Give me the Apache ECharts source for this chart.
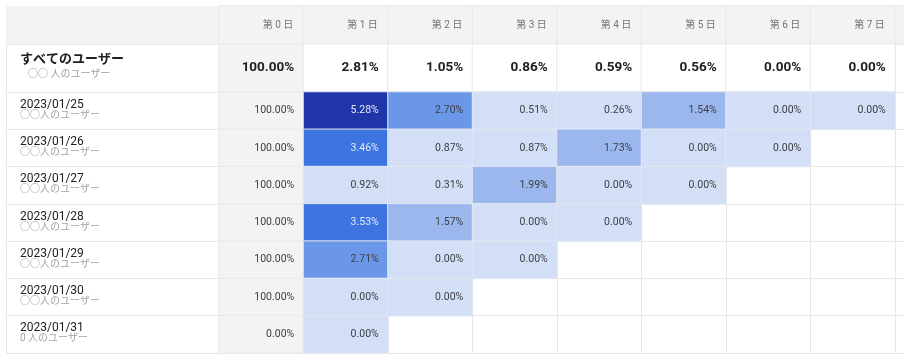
<!DOCTYPE html>
<html>
<head>
<meta charset="utf-8">
<script src="https://cdn.jsdelivr.net/npm/echarts@6/dist/echarts.min.js"></script>
<style>html,body{margin:0;padding:0;background:#fff}#c{width:904px;height:362px}</style>
</head>
<body>
<div id="c"></div>
<script>
// ---- data ----
const days = ['第 0 日', '第 1 日', '第 2 日', '第 3 日', '第 4 日', '第 5 日', '第 6 日', '第 7 日', '第 8 日'];
const summaryTitle = 'すべてのユーザー';
const summarySub = '○○ 人のユーザー';
const summaryValues = [100.00, 2.81, 1.05, 0.86, 0.59, 0.56, 0.00, 0.00];
const cohortDates = ['2023/01/25', '2023/01/26', '2023/01/27', '2023/01/28', '2023/01/29', '2023/01/30', '2023/01/31'];
const cohortUsers = ['○○人のユーザー', '○○人のユーザー', '○○人のユーザー', '○○人のユーザー', '○○人のユーザー', '○○人のユーザー', '0 人のユーザー'];
const retention = [
  [100.00, 5.28, 2.70, 0.51, 0.26, 1.54, 0.00, 0.00],
  [100.00, 3.46, 0.87, 0.87, 1.73, 0.00, 0.00],
  [100.00, 0.92, 0.31, 1.99, 0.00, 0.00],
  [100.00, 3.53, 1.57, 0.00, 0.00],
  [100.00, 2.71, 0.00, 0.00],
  [100.00, 0.00, 0.00],
  [0.00, 0.00]
];

// ---- layout / style ----
const FONT = 'Roboto, "Noto Sans CJK JP", sans-serif';
const LINE = '#ebe7e9';
const GRAY = '#f3f3f3';
const LEFT = 219, COLW = 84.5, LABEL_W = 213;
const pct = v => v.toFixed(2) + '%';

function xAxisFor(gi) {
  return {
    type: 'category', gridIndex: gi, data: days,
    axisLabel: { show: false }, axisTick: { show: false },
    axisLine: { show: false },
    splitLine: { show: true, interval: 0, lineStyle: { color: LINE, width: 1 } }
  };
}

const header0 = days.map((d, i) => [i, 0, i]);
const summaryData = summaryValues.map((v, i) => ({
  value: [i, 0, v],
  itemStyle: { color: i === 0 ? GRAY : '#ffffff' }
}));
const day0Data = retention.map((r, j) => [0, j, r[0]]);
const colored = [];
retention.forEach((r, j) => {
  r.forEach((v, i) => {
    if (i === 0) return;
    colored.push({ value: [i, j, v], label: { color: v >= 3 ? '#e4eafb' : '#3c4043' } });
  });
});

const gridBase = { left: LEFT, width: COLW * days.length, outerBoundsMode: 'none', containLabel: false };

const option = {
  backgroundColor: '#ffffff',
  animation: false,
  textStyle: { fontFamily: FONT },
  grid: [
    Object.assign({ top: 6, height: 38 }, gridBase),
    Object.assign({ top: 44, height: 48 }, gridBase),
    Object.assign({ top: 92, height: 261 }, gridBase)
  ],
  xAxis: [xAxisFor(0), xAxisFor(1), xAxisFor(2)],
  yAxis: [
    { type: 'category', gridIndex: 0, data: [''], axisLabel: { show: false },
      axisTick: { show: false }, axisLine: { show: false }, splitLine: { show: false } },
    { type: 'category', gridIndex: 1, data: [summaryTitle],
      axisLine: { show: true, lineStyle: { color: LINE } },
      axisTick: { show: true, length: LABEL_W, lineStyle: { color: LINE } },
      splitLine: { show: true, interval: 0, lineStyle: { color: LINE } },
      axisLabel: {
        align: 'left', margin: LEFT - 20, padding: [0, 0, 3, 0],
        formatter: v => '{t|' + v + '}\n{s|' + summarySub + '}',
        rich: {
          t: { fontFamily: FONT, fontSize: 13, fontWeight: 'bold', color: '#202124', lineHeight: 15 },
          s: { fontFamily: FONT, fontSize: 10, color: '#9aa0a6', lineHeight: 13, padding: [0, 0, 0, 8] }
        }
      } },
    { type: 'category', gridIndex: 2, data: cohortDates, inverse: true,
      axisLine: { show: true, lineStyle: { color: LINE } },
      axisTick: { show: true, length: LABEL_W, interval: 0, lineStyle: { color: LINE } },
      splitLine: { show: true, interval: 0, lineStyle: { color: LINE } },
      axisLabel: {
        align: 'left', margin: LEFT - 20, interval: 0, padding: [0, 0, 2, 0],
        formatter: (v, idx) => '{a|' + v + '}\n{b|' + cohortUsers[idx] + '}',
        rich: {
          a: { fontFamily: FONT, fontSize: 12, color: '#202124', lineHeight: 11 },
          b: { fontFamily: FONT, fontSize: 10, color: '#a0a4a8', lineHeight: 10 }
        }
      } }
  ],
  visualMap: {
    type: 'piecewise', show: false, seriesIndex: 3, dimension: 2,
    pieces: [
      { min: 0, max: 1, color: '#d2dff7' },
      { min: 1, max: 2.5, color: '#9bb7ee' },
      { min: 2.5, max: 3, color: '#6b97e8' },
      { min: 3, max: 5, color: '#3e74df' },
      { min: 5, color: '#2036a8' }
    ]
  },
  graphic: [
    { type: 'rect', shape: { x: 6, y: 6, width: LABEL_W, height: 38 }, style: { fill: GRAY }, z: -1 },
    { type: 'line', shape: { x1: 6.5, y1: 44, x2: 6.5, y2: 353 }, style: { stroke: LINE, lineWidth: 1 } }
  ],
  series: [
    { type: 'heatmap', xAxisIndex: 0, yAxisIndex: 0, data: header0,
      itemStyle: { color: GRAY, borderColor: LINE, borderWidth: 1 },
      label: { show: true, position: 'insideRight', distance: 11, fontFamily: FONT, fontSize: 10, color: '#70757a',
        formatter: p => days[p.value[0]] },
      emphasis: { disabled: true } },
    { type: 'heatmap', xAxisIndex: 1, yAxisIndex: 1, data: summaryData,
      itemStyle: { borderColor: LINE, borderWidth: 1 },
      label: { show: true, position: 'insideRight', distance: 10, fontFamily: FONT, fontSize: 13.5, fontWeight: 'bold', color: '#202124',
        formatter: p => pct(p.value[2]) },
      emphasis: { disabled: true } },
    { type: 'heatmap', xAxisIndex: 2, yAxisIndex: 2, data: day0Data,
      itemStyle: { color: GRAY, borderColor: LINE, borderWidth: 1 },
      label: { show: true, position: 'insideRight', distance: 10, fontFamily: FONT, fontSize: 10.5, color: '#3c4043',
        formatter: p => pct(p.value[2]) },
      emphasis: { disabled: true } },
    { type: 'heatmap', xAxisIndex: 2, yAxisIndex: 2, data: colored,
      itemStyle: { borderColor: '#e4e7f0', borderWidth: 1 },
      label: { show: true, position: 'insideRight', distance: 10, fontFamily: FONT, fontSize: 10.5,
        formatter: p => pct(p.value[2]) },
      emphasis: { disabled: true } }
  ]
};

const chart = echarts.init(document.getElementById('c'), null, { renderer: 'canvas' });
chart.setOption(option);
</script>
</body>
</html>
